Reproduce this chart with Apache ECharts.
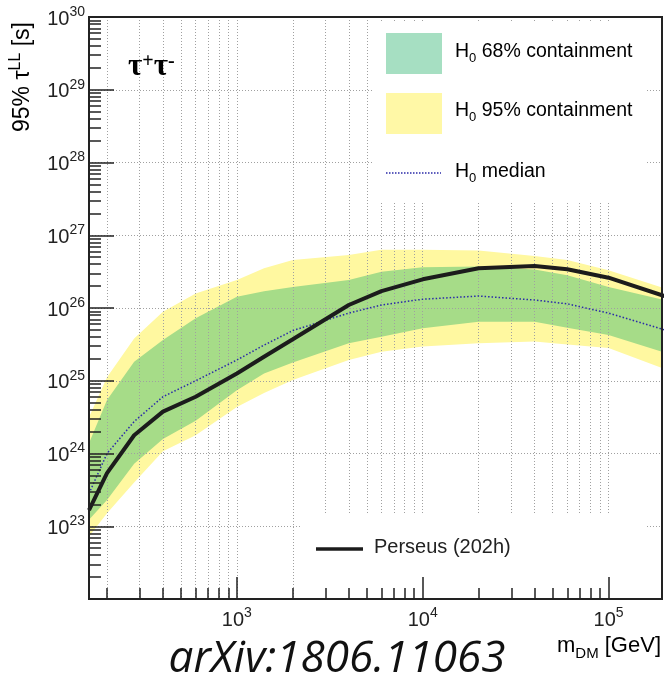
<!DOCTYPE html>
<html>
<head>
<meta charset="utf-8">
<script src="https://cdn.jsdelivr.net/npm/echarts@6/dist/echarts.min.js"></script>
<style>
  html, body { margin: 0; padding: 0; background: #ffffff; }
  #chart { width: 665px; height: 680px; }
</style>
</head>
<body>
<div id="chart"></div>
<script>
// Dark-matter mass points [GeV]
const massGeV = [160, 200, 280, 400, 600, 1000, 1400, 2000, 4000, 6000, 1e4, 2e4, 4e4, 6e4, 1e5, 2e5];

// 95% CL lifetime lower limits [s], tau+ tau- channel
const perseus202h = [1.66e23, 5.37e23, 1.78e24, 3.76e24, 6.03e24, 1.26e25, 2.14e25, 3.72e25,
                     1.10e26, 1.71e26, 2.48e26, 3.52e26, 3.78e26, 3.40e26, 2.61e26, 1.46e26];
const h0Median    = [2.82e23, 1.00e24, 2.75e24, 6.03e24, 1.00e25, 1.93e25, 3.09e25, 4.90e25,
                     8.51e25, 1.10e26, 1.32e26, 1.46e26, 1.29e26, 1.14e26, 8.51e25, 5.01e25];
const h0Band68Low  = [1.23e23, 2.29e23, 7.24e23, 1.58e24, 2.82e24, 7.41e24, 1.26e25, 1.78e25,
                      3.27e25, 4.03e25, 5.25e25, 6.46e25, 6.46e25, 5.37e25, 4.27e25, 2.45e25];
const h0Band68High = [1.38e24, 5.43e24, 1.82e25, 3.63e25, 7.24e25, 1.43e26, 1.70e26, 1.95e26,
                      2.43e26, 3.16e26, 3.63e26, 3.72e26, 3.39e26, 2.82e26, 1.95e26, 1.29e26];
const h0Band95Low  = [7.24e22, 1.51e23, 3.98e23, 1.07e24, 1.78e24, 4.37e24, 6.76e24, 1.02e25,
                      1.93e25, 2.51e25, 2.95e25, 3.27e25, 3.47e25, 3.16e25, 2.82e25, 1.45e25];
const h0Band95High = [3.16e24, 1.12e25, 3.80e25, 8.91e25, 1.58e26, 2.43e26, 3.52e26, 4.57e26,
                      5.37e26, 6.31e26, 6.31e26, 6.17e26, 5.19e26, 4.57e26, 3.31e26, 1.86e26];

// Axis ranges and tick values
const xRange = [160, 1.94e5];
const yRange = [1e22, 1.0000001e30];
const xDecades = [100, 1000, 10000, 100000];
const yDecades = [1e22, 1e23, 1e24, 1e25, 1e26, 1e27, 1e28, 1e29];
const xLabelTicks = [1e3, 1e4, 1e5];
const yLabelTicks = [1e23, 1e24, 1e25, 1e26, 1e27, 1e28, 1e29, 1e30];
const yGridTicks = [1e23, 1e24, 1e25, 1e26, 1e27, 1e28, 1e29];
const minorMantissas = [2, 3, 4, 5, 6, 7, 8, 9];

function minorTicks(decades) {
  const out = [];
  decades.forEach(d => minorMantissas.forEach(k => out.push(k * d)));
  return out;
}
const xMinorTicks = minorTicks(xDecades);
const yMinorTicks = minorTicks(yDecades);
const xGridTicks = xMinorTicks.concat(xLabelTicks);

const INK = '#222222';
const FONT = 'Liberation Sans, Arial, Helvetica, sans-serif';
const gridLine = { show: true, lineStyle: { color: '#a0a0a0', width: 1, type: [1, 2] } };

const powerRich = {
  b: { fontSize: 20, fontFamily: FONT, color: INK, lineHeight: 24, verticalAlign: 'bottom', padding: [6, 0, 0, 0] },
  s: { fontSize: 14, fontFamily: FONT, color: INK, lineHeight: 24, verticalAlign: 'top' }
};
function powerLabel(v) {
  return '{b|10}{s|' + Math.round(Math.log10(v)) + '}';
}

function logAxis(range, extra) {
  return Object.assign({
    type: 'log', logBase: 10, min: range[0], max: range[1], gridIndex: 0,
    axisLine: { show: false }, axisTick: { show: false }, axisLabel: { show: false },
    splitLine: { show: false }, minorTick: { show: false }
  }, extra);
}

const xAxes = [
  // dotted grid at every tick position
  logAxis(xRange, { position: 'bottom', z: 2, axisTick: { show: false, customValues: xGridTicks }, splitLine: gridLine }),
  // short ticks
  logAxis(xRange, { position: 'bottom', z: 6,
    axisLine: { show: true, onZero: false, lineStyle: { color: INK, width: 2 } },
    axisTick: { show: true, inside: true, length: 11, customValues: xMinorTicks, lineStyle: { color: INK, width: 1.5 } } }),
  // long ticks with labels
  logAxis(xRange, { position: 'bottom', z: 6,
    axisTick: { show: true, inside: true, length: 22, customValues: xLabelTicks, lineStyle: { color: INK, width: 1.5 } },
    axisLabel: { show: true, customValues: xLabelTicks, margin: 7, formatter: powerLabel, rich: powerRich } })
];

const yAxes = [
  logAxis(yRange, { position: 'left', z: 2, axisTick: { show: false, customValues: yGridTicks }, splitLine: gridLine }),
  logAxis(yRange, { position: 'left', z: 6,
    axisLine: { show: true, onZero: false, lineStyle: { color: INK, width: 2 } },
    axisTick: { show: true, inside: true, length: 12, customValues: yMinorTicks, lineStyle: { color: INK, width: 1.5 } } }),
  logAxis(yRange, { position: 'left', z: 6,
    axisTick: { show: true, inside: true, length: 25, customValues: yLabelTicks, lineStyle: { color: INK, width: 1.5 } },
    axisLabel: { show: true, customValues: yLabelTicks, margin: 4, formatter: powerLabel, rich: powerRich } })
];

function pairs(values) {
  return massGeV.map((m, i) => [m, values[i]]);
}

// Containment band: one polygon between the low and high edges, placed through the axes
function bandSeries(name, low, high, color) {
  return {
    name: name, type: 'custom', z: 1, silent: true, clip: true,
    data: massGeV.map((m, i) => [m, low[i], high[i]]),
    encode: { x: 0, y: [1, 2] },
    renderItem: function (params, api) {
      if (params.dataIndexInside !== 0) return null;
      const n = params.dataInsideLength;
      const upper = [], lower = [];
      for (let i = 0; i < n; i++) {
        const m = api.value(0, i);
        upper.push(api.coord([m, api.value(2, i)]));
        lower.push(api.coord([m, api.value(1, i)]));
      }
      const cs = params.coordSys;
      return {
        type: 'polygon',
        shape: { points: upper.concat(lower.reverse()) },
        style: { fill: color },
        clipPath: { type: 'rect', shape: { x: cs.x, y: cs.y, width: cs.width, height: cs.height } }
      };
    }
  };
}

// main text sits at the top of the line box, the subscript at its bottom
const legendRich = {
  t: { fontSize: 19.5, fontFamily: FONT, color: INK, lineHeight: 20, verticalAlign: 'top' },
  u: { fontSize: 13, fontFamily: FONT, color: INK, lineHeight: 23, verticalAlign: 'bottom' }
};

const graphics = [
  // legend panels
  { type: 'rect', z: 3, silent: true, shape: { x: 372, y: 22, width: 273, height: 181 }, style: { fill: '#ffffff' } },
  { type: 'rect', z: 3, silent: true, shape: { x: 300, y: 513, width: 345, height: 84 }, style: { fill: '#ffffff' } },
  { type: 'rect', z: 7, shape: { x: 386, y: 33, width: 56, height: 41 }, style: { fill: '#a6dfc2' } },
  { type: 'rect', z: 7, shape: { x: 386, y: 93, width: 56, height: 41 }, style: { fill: '#fff8a6' } },
  { type: 'line', z: 7, shape: { x1: 386, y1: 173, x2: 441, y2: 173 },
    style: { stroke: '#2a2aa8', lineWidth: 1.5, lineDash: [1.5, 1.5] } },
  { type: 'text', z: 7, x: 455, y: 42, style: { text: '{t|H}{u|0}{t| 68% containment}', rich: legendRich, verticalAlign: 'top' } },
  { type: 'text', z: 7, x: 455, y: 101, style: { text: '{t|H}{u|0}{t| 95% containment}', rich: legendRich, verticalAlign: 'top' } },
  { type: 'text', z: 7, x: 455, y: 162, style: { text: '{t|H}{u|0}{t| median}', rich: legendRich, verticalAlign: 'top' } },
  { type: 'line', z: 7, shape: { x1: 316, y1: 549, x2: 363, y2: 549 }, style: { stroke: '#1c1c1c', lineWidth: 3.5 } },
  { type: 'text', z: 7, x: 374, y: 547, style: { text: 'Perseus (202h)', font: '20px ' + FONT, fill: INK, verticalAlign: 'middle' } },
  // channel tag
  { type: 'text', z: 7, x: 128, y: 52, style: {
      text: '{g|τ}{p|+}{g|τ}{p|-}', verticalAlign: 'top',
      rich: {
        g: { fontSize: 31, fontWeight: 'bold', fontFamily: 'Liberation Serif, Times New Roman, serif', color: INK, lineHeight: 30, verticalAlign: 'bottom' },
        p: { fontSize: 20, fontWeight: 'bold', fontFamily: 'Liberation Serif, Times New Roman, serif', color: INK, lineHeight: 28, verticalAlign: 'top' }
      } } },
  // axis titles
  { type: 'text', z: 7, x: 21, y: 22, rotation: Math.PI / 2, style: {
      text: '{t|95% τ}{s|LL}{t| [s]}', align: 'right', verticalAlign: 'middle',
      rich: {
        t: { fontSize: 23, fontFamily: FONT, color: INK, lineHeight: 27, verticalAlign: 'bottom' },
        s: { fontSize: 16, fontFamily: FONT, color: INK, lineHeight: 27, verticalAlign: 'top' }
      } } },
  { type: 'text', z: 7, x: 661, y: 635, style: {
      text: '{t|m}{d|DM}{t| [GeV]}', align: 'right', verticalAlign: 'top',
      rich: {
        t: { fontSize: 22, fontFamily: FONT, color: INK, lineHeight: 22, verticalAlign: 'top' },
        d: { fontSize: 15, fontFamily: FONT, color: INK, lineHeight: 26, verticalAlign: 'bottom' }
      } } },
  // reference tag
  { type: 'text', z: 7, x: 337, y: 659, style: {
      text: 'arXiv:1806.11063', align: 'center', verticalAlign: 'middle',
      font: 'italic 44px "Open Sans", "Noto Sans", sans-serif', fill: '#111111' } }
];

const option = {
  animation: false,
  backgroundColor: '#ffffff',
  grid: { left: 89, top: 17, right: 3, bottom: 81, show: true, borderColor: INK, borderWidth: 2, backgroundColor: 'transparent', z: 6 },
  xAxis: xAxes,
  yAxis: yAxes,
  graphic: graphics,
  series: [
    bandSeries('H0 95% containment', h0Band95Low, h0Band95High, '#fff8a0'),
    bandSeries('H0 68% containment', h0Band68Low, h0Band68High, '#a6dc88'),
    { name: 'H0 median', type: 'line', data: pairs(h0Median), symbol: 'none', z: 4,
      lineStyle: { color: '#2a2aa8', width: 1.5, type: [1.5, 2] } },
    { name: 'Perseus (202h)', type: 'line', data: pairs(perseus202h), symbol: 'none', z: 4,
      lineStyle: { color: '#1c1c1c', width: 4 } }
  ]
};

const chart = echarts.init(document.getElementById('chart'), null, { renderer: 'canvas' });
chart.setOption(option);
</script>
</body>
</html>
